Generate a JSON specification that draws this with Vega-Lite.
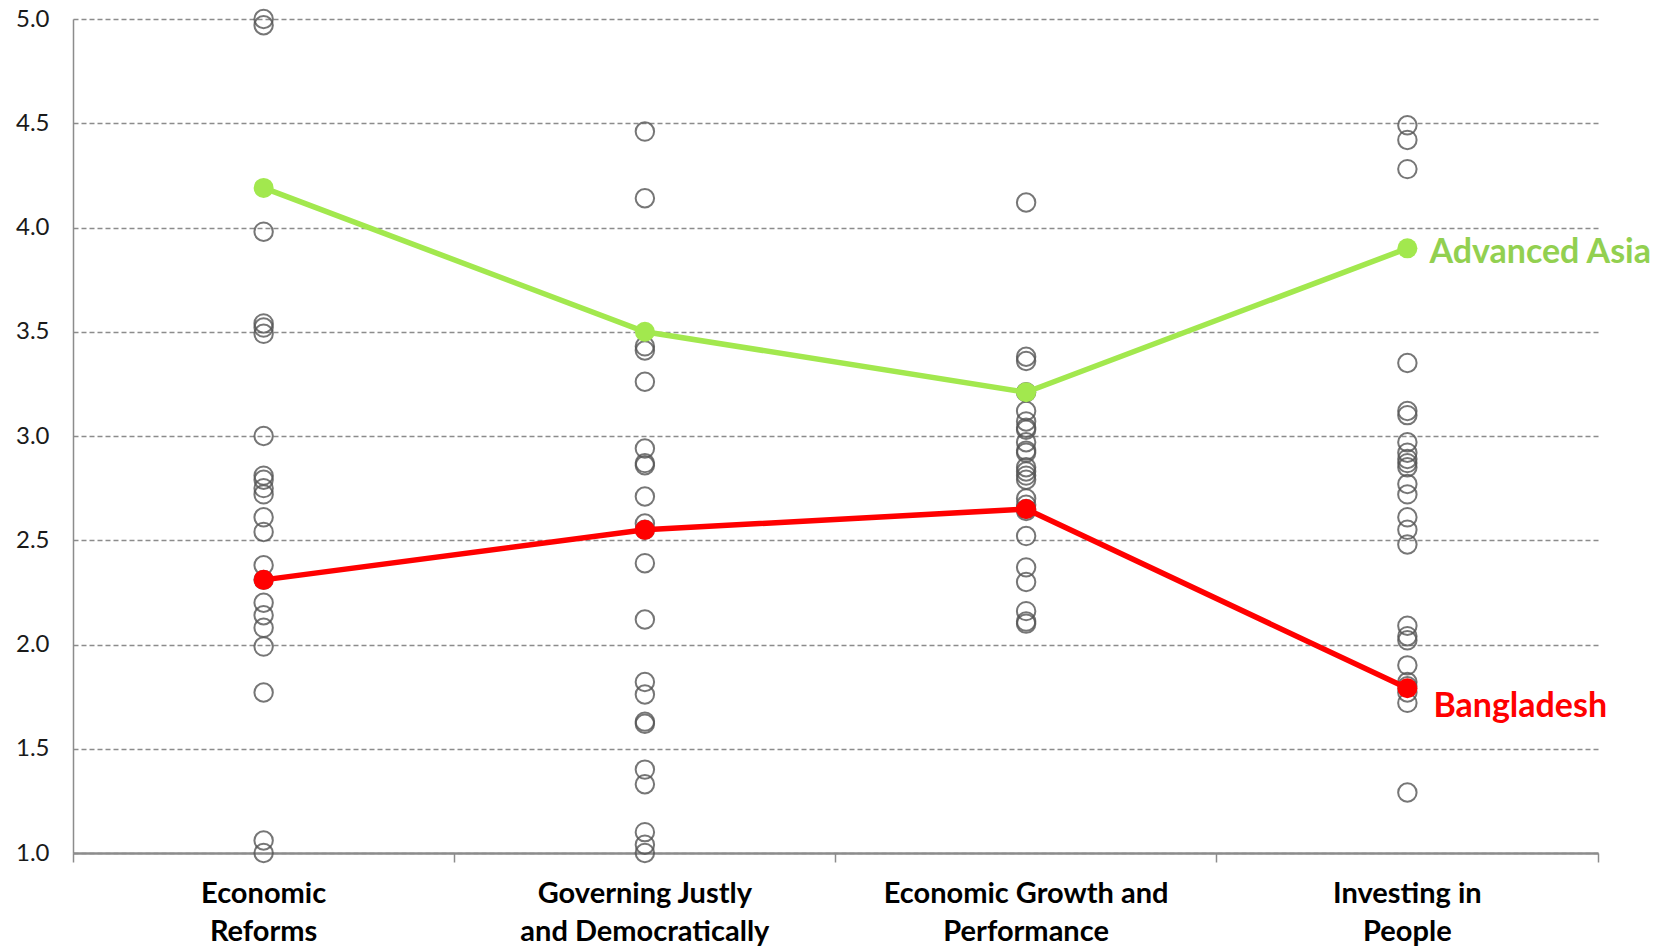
{
  "$schema": "https://vega.github.io/schema/vega-lite/v6.json",
  "autosize": "none",
  "width": 1525,
  "height": 834,
  "padding": {"left": 73, "top": 19, "right": 72, "bottom": 96},
  "background": "white",
  "config": {
    "view": {"stroke": null},
    "font": "Lato"
  },
  "datasets": {
    "countries": [
      {"pillar": "Economic Reforms", "score": 5.0},
      {"pillar": "Economic Reforms", "score": 4.97},
      {"pillar": "Economic Reforms", "score": 3.98},
      {"pillar": "Economic Reforms", "score": 3.54},
      {"pillar": "Economic Reforms", "score": 3.52},
      {"pillar": "Economic Reforms", "score": 3.49},
      {"pillar": "Economic Reforms", "score": 3.0},
      {"pillar": "Economic Reforms", "score": 2.81},
      {"pillar": "Economic Reforms", "score": 2.79},
      {"pillar": "Economic Reforms", "score": 2.75},
      {"pillar": "Economic Reforms", "score": 2.72},
      {"pillar": "Economic Reforms", "score": 2.61},
      {"pillar": "Economic Reforms", "score": 2.54},
      {"pillar": "Economic Reforms", "score": 2.38},
      {"pillar": "Economic Reforms", "score": 2.31},
      {"pillar": "Economic Reforms", "score": 2.2},
      {"pillar": "Economic Reforms", "score": 2.14},
      {"pillar": "Economic Reforms", "score": 2.08},
      {"pillar": "Economic Reforms", "score": 1.99},
      {"pillar": "Economic Reforms", "score": 1.77},
      {"pillar": "Economic Reforms", "score": 1.06},
      {"pillar": "Economic Reforms", "score": 1.0},
      {"pillar": "Governing Justly and Democratically", "score": 4.46},
      {"pillar": "Governing Justly and Democratically", "score": 4.14},
      {"pillar": "Governing Justly and Democratically", "score": 3.43},
      {"pillar": "Governing Justly and Democratically", "score": 3.41},
      {"pillar": "Governing Justly and Democratically", "score": 3.26},
      {"pillar": "Governing Justly and Democratically", "score": 2.94},
      {"pillar": "Governing Justly and Democratically", "score": 2.87},
      {"pillar": "Governing Justly and Democratically", "score": 2.86},
      {"pillar": "Governing Justly and Democratically", "score": 2.71},
      {"pillar": "Governing Justly and Democratically", "score": 2.58},
      {"pillar": "Governing Justly and Democratically", "score": 2.55},
      {"pillar": "Governing Justly and Democratically", "score": 2.39},
      {"pillar": "Governing Justly and Democratically", "score": 2.12},
      {"pillar": "Governing Justly and Democratically", "score": 1.82},
      {"pillar": "Governing Justly and Democratically", "score": 1.76},
      {"pillar": "Governing Justly and Democratically", "score": 1.63},
      {"pillar": "Governing Justly and Democratically", "score": 1.62},
      {"pillar": "Governing Justly and Democratically", "score": 1.4},
      {"pillar": "Governing Justly and Democratically", "score": 1.33},
      {"pillar": "Governing Justly and Democratically", "score": 1.1},
      {"pillar": "Governing Justly and Democratically", "score": 1.04},
      {"pillar": "Governing Justly and Democratically", "score": 1.0},
      {"pillar": "Economic Growth and Performance", "score": 4.12},
      {"pillar": "Economic Growth and Performance", "score": 3.38},
      {"pillar": "Economic Growth and Performance", "score": 3.36},
      {"pillar": "Economic Growth and Performance", "score": 3.21},
      {"pillar": "Economic Growth and Performance", "score": 3.12},
      {"pillar": "Economic Growth and Performance", "score": 3.07},
      {"pillar": "Economic Growth and Performance", "score": 3.04},
      {"pillar": "Economic Growth and Performance", "score": 3.03},
      {"pillar": "Economic Growth and Performance", "score": 2.97},
      {"pillar": "Economic Growth and Performance", "score": 2.93},
      {"pillar": "Economic Growth and Performance", "score": 2.92},
      {"pillar": "Economic Growth and Performance", "score": 2.85},
      {"pillar": "Economic Growth and Performance", "score": 2.83},
      {"pillar": "Economic Growth and Performance", "score": 2.81},
      {"pillar": "Economic Growth and Performance", "score": 2.79},
      {"pillar": "Economic Growth and Performance", "score": 2.7},
      {"pillar": "Economic Growth and Performance", "score": 2.67},
      {"pillar": "Economic Growth and Performance", "score": 2.65},
      {"pillar": "Economic Growth and Performance", "score": 2.64},
      {"pillar": "Economic Growth and Performance", "score": 2.52},
      {"pillar": "Economic Growth and Performance", "score": 2.37},
      {"pillar": "Economic Growth and Performance", "score": 2.3},
      {"pillar": "Economic Growth and Performance", "score": 2.16},
      {"pillar": "Economic Growth and Performance", "score": 2.11},
      {"pillar": "Economic Growth and Performance", "score": 2.1},
      {"pillar": "Investing in People", "score": 4.49},
      {"pillar": "Investing in People", "score": 4.42},
      {"pillar": "Investing in People", "score": 4.28},
      {"pillar": "Investing in People", "score": 3.35},
      {"pillar": "Investing in People", "score": 3.12},
      {"pillar": "Investing in People", "score": 3.1},
      {"pillar": "Investing in People", "score": 2.97},
      {"pillar": "Investing in People", "score": 2.92},
      {"pillar": "Investing in People", "score": 2.89},
      {"pillar": "Investing in People", "score": 2.87},
      {"pillar": "Investing in People", "score": 2.85},
      {"pillar": "Investing in People", "score": 2.77},
      {"pillar": "Investing in People", "score": 2.72},
      {"pillar": "Investing in People", "score": 2.61},
      {"pillar": "Investing in People", "score": 2.55},
      {"pillar": "Investing in People", "score": 2.48},
      {"pillar": "Investing in People", "score": 2.09},
      {"pillar": "Investing in People", "score": 2.04},
      {"pillar": "Investing in People", "score": 2.02},
      {"pillar": "Investing in People", "score": 1.9},
      {"pillar": "Investing in People", "score": 1.82},
      {"pillar": "Investing in People", "score": 1.8},
      {"pillar": "Investing in People", "score": 1.77},
      {"pillar": "Investing in People", "score": 1.72},
      {"pillar": "Investing in People", "score": 1.29}
    ],
    "series": [
      {"series": "Advanced Asia", "pillar": "Economic Reforms", "score": 4.19},
      {"series": "Advanced Asia", "pillar": "Governing Justly and Democratically", "score": 3.5},
      {"series": "Advanced Asia", "pillar": "Economic Growth and Performance", "score": 3.21},
      {"series": "Advanced Asia", "pillar": "Investing in People", "score": 3.9},
      {"series": "Bangladesh", "pillar": "Economic Reforms", "score": 2.31},
      {"series": "Bangladesh", "pillar": "Governing Justly and Democratically", "score": 2.55},
      {"series": "Bangladesh", "pillar": "Economic Growth and Performance", "score": 2.65},
      {"series": "Bangladesh", "pillar": "Investing in People", "score": 1.79}
    ]
  },
  "encoding": {
    "x": {
      "field": "pillar",
      "type": "nominal",
      "sort": ["Economic Reforms", "Governing Justly and Democratically", "Economic Growth and Performance", "Investing in People"],
      "scale": {"type": "band", "paddingInner": 0, "paddingOuter": 0},
      "axis": {
        "title": null,
        "labelAngle": 0,
        "bandPosition": 1,
        "tickExtra": true,
        "grid": false,
        "domainColor": "#8c8c8c",
        "domainWidth": 2.5,
        "tickColor": "#8c8c8c",
        "tickWidth": 1.5,
        "tickSize": 9,
        "labelPadding": 17,
        "labelLimit": 500,
        "labelFont": "Lato",
        "labelFontWeight": "bold",
        "labelFontSize": 29,
        "labelColor": "#000000",
        "labelLineHeight": 38,
        "labelBaseline": "top",
        "labelExpr": "datum.value == 'Economic Reforms' ? ['Economic', 'Reforms'] : datum.value == 'Governing Justly and Democratically' ? ['Governing Justly', 'and Democratically'] : datum.value == 'Economic Growth and Performance' ? ['Economic  Growth and', 'Performance'] : datum.value == 'Investing in People' ? ['Investing in', 'People'] : ''"
      }
    },
    "y": {
      "field": "score",
      "type": "quantitative",
      "scale": {"domain": [1, 5], "nice": false, "zero": false},
      "axis": {
        "title": null,
        "values": [1, 1.5, 2, 2.5, 3, 3.5, 4, 4.5, 5],
        "format": ".1f",
        "grid": true,
        "gridColor": "#8c8c8c",
        "gridDash": [5, 3],
        "gridWidth": 1.5,
        "domainColor": "#8c8c8c",
        "domainWidth": 1.5,
        "ticks": false,
        "tickSize": 0,
        "labelPadding": 24,
        "labelFont": "Lato",
        "labelFontSize": 24,
        "labelColor": "#1a1a1a"
      }
    }
  },
  "layer": [
    {
      "data": {"name": "countries"},
      "mark": {"type": "point", "shape": "circle", "filled": false, "size": 340, "stroke": "#555555", "strokeWidth": 2, "opacity": 0.8}
    },
    {
      "data": {"name": "series"},
      "mark": {"type": "line", "strokeWidth": 5.5},
      "encoding": {
        "color": {"field": "series", "type": "nominal", "scale": {"domain": ["Advanced Asia", "Bangladesh"], "range": ["#a2e84e", "#ff0000"]}, "legend": null}
      }
    },
    {
      "data": {"name": "series"},
      "mark": {"type": "point", "shape": "circle", "filled": true, "size": 400, "opacity": 1},
      "encoding": {
        "color": {"field": "series", "type": "nominal", "scale": {"domain": ["Advanced Asia", "Bangladesh"], "range": ["#a2e84e", "#ff0000"]}, "legend": null}
      }
    },
    {
      "data": {"name": "series"},
      "transform": [{"filter": "datum.series == 'Advanced Asia' && datum.pillar == 'Investing in People'"}],
      "mark": {"type": "text", "align": "left", "baseline": "middle", "dx": 22, "dy": 5, "font": "Lato", "fontWeight": "bold", "fontSize": 34, "color": "#92d050"},
      "encoding": {"text": {"field": "series"}}
    },
    {
      "data": {"name": "series"},
      "transform": [{"filter": "datum.series == 'Bangladesh' && datum.pillar == 'Investing in People'"}],
      "mark": {"type": "text", "align": "left", "baseline": "middle", "dx": 26, "dy": 19, "font": "Lato", "fontWeight": "bold", "fontSize": 34, "color": "#ff0000"},
      "encoding": {"text": {"field": "series"}}
    }
  ]
}
